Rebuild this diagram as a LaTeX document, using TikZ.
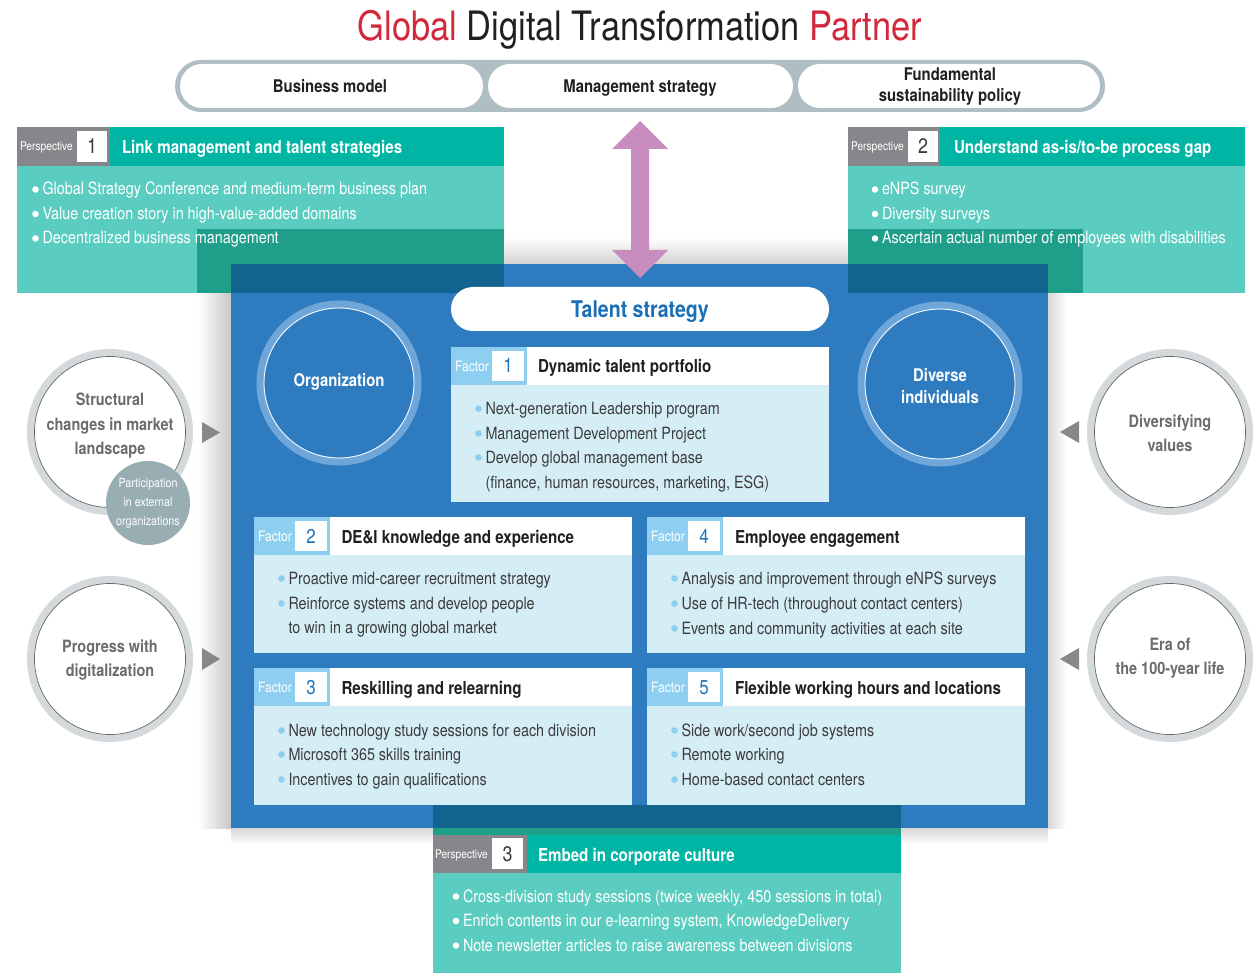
\documentclass[tikz,border=0pt]{standalone}
\usepackage{fontspec}
\setmainfont{TeX Gyre Heros}[FakeStretch=0.85]
\definecolor{cteal}{HTML}{00B5A3}
\definecolor{cltteal}{HTML}{5BCDC0}
\definecolor{cdkteal}{HTML}{1F9E8A}
\definecolor{cdkblue}{HTML}{12638F}
\definecolor{cblue}{HTML}{2E7BBF}
\definecolor{cgraylab}{HTML}{86878A}
\definecolor{clbluelab}{HTML}{8ECFF1}
\definecolor{cbody}{HTML}{D5EEF6}
\definecolor{cring}{HTML}{6FA6D9}
\definecolor{cgring}{HTML}{D4DADB}
\definecolor{cpart}{HTML}{98AEB2}
\definecolor{ctri}{HTML}{87888B}
\definecolor{cpurple}{HTML}{C98CBF}
\definecolor{cred}{HTML}{D2283C}
\definecolor{cbar}{HTML}{AEBEC3}
\definecolor{ccirctext}{HTML}{6B6C6F}
\definecolor{cftext}{HTML}{3C3C3E}
\definecolor{cnum}{HTML}{1D74BB}
\definecolor{cnumdark}{HTML}{3A3A3A}
\definecolor{ctalent}{HTML}{1A6FB6}
\definecolor{ctitle}{HTML}{231F20}
% bullet line: name, bullet centre x, baseline y, bullet colour, text style, text
\newcommand\bul[6]{%
  \fill[#4] (#2,#3-5.5) circle[radius=3.3pt];
  \node[#5] (#1) at (#2+7,#3) {#6};}
% factor frame: left x, top y, bottom y, id, number
\newcommand\factorframe[5]{%
  \fill[cbody] (#1,#2+38) rectangle (#1+378,#3);
  \fill[white] (#1,#2) rectangle (#1+378,#2+38);
  \fill[clbluelab] (#1,#2) rectangle (#1+76,#2+38);
  \fill[white] (#1+41,#2+4) rectangle (#1+73,#2+34);
  \node[flab] (f#4lab) at (#1+4,#2+24.5) {Factor};
  \node[fnum] (f#4num) at (#1+57,#2+26) {#5};}
\begin{document}
\begin{tikzpicture}[x=1pt,y=-1pt,
  every node/.style={inner sep=0pt, outer sep=0pt},
  ptxt/.style={anchor=base west, text=white, font=\fontsize{16.9}{20}\selectfont},
  ftxt/.style={anchor=base west, text=cftext, font=\fontsize{16.9}{20}\selectfont},
  plab/.style={anchor=base west, text=white, font=\fontsize{12}{14}\selectfont},
  pnum/.style={anchor=base, text=cnumdark, font=\fontsize{21}{24}\selectfont},
  ptitle/.style={anchor=base west, text=white, font=\bfseries\fontsize{17.8}{20}\selectfont},
  flab/.style={anchor=base west, text=white, font=\fontsize{14.3}{16}\selectfont},
  fnum/.style={anchor=base, text=cnum, font=\fontsize{20}{24}\selectfont},
  ftitle/.style={anchor=base west, text=ctitle, font=\bfseries\fontsize{17.8}{20}\selectfont},
  pilltxt/.style={anchor=base, text=ctitle, font=\bfseries\fontsize{17.5}{20}\selectfont},
  gcirc/.style={align=center, text=ccirctext, font=\bfseries\fontsize{17}{24.5}\selectfont},
  bcirc/.style={align=center, text=white, font=\bfseries\fontsize{17.5}{22.5}\selectfont},
  partxt/.style={align=center, text=white, font=\fontsize{12.6}{19}\selectfont}]
\useasboundingbox (0,0) rectangle (1253,973);
\fill[white] (0,0) rectangle (1253,973);

% title
\node[anchor=base, font=\fontsize{40.5}{44}\selectfont, text=ctitle] (title) at (640,41)
  {\textcolor{cred}{Global} Digital Transformation \textcolor{cred}{Partner}};

% top bar
\fill[cbar, rounded corners=26pt] (175,60) rectangle (1105,112);
\fill[white, rounded corners=22pt] (180,64) rectangle (483,108);
\fill[white, rounded corners=22pt] (488,64) rectangle (793,108);
\fill[white, rounded corners=22pt] (798,64) rectangle (1100,108);
\node[pilltxt] (bm) at (330,93) {Business model};
\node[pilltxt] (ms) at (640,93) {Management strategy};
\node[pilltxt] (fs1) at (950,81) {Fundamental};
\node[pilltxt] (fs2) at (950,102) {sustainability policy};

% shadows of the blue box on white
\shade[left color=white, right color=black!22] (198,264) rectangle (231,828);
\shade[top color=white, bottom color=black!18] (504,238) rectangle (848,264);
\shade[left color=black!16, right color=white] (1048,293) rectangle (1066,828);
\shade[top color=black!16, bottom color=white] (231,828) rectangle (433,844);
\shade[top color=black!16, bottom color=white] (901,828) rectangle (1048,844);

% blue box
\fill[cblue] (231,264) rectangle (1048,828);

% perspective 1
\fill[cltteal] (17,166) rectangle (504,293);
\fill[cteal] (17,127) rectangle (504,166);
\fill[cgraylab] (17,127) rectangle (110,166);
\fill[white] (77,131) rectangle (107,162);
\fill[cdkteal] (197,229) rectangle (504,293);
\fill[cdkblue] (231,264) rectangle (504,293);
% perspective 2
\fill[cltteal] (848,166) rectangle (1245,293);
\fill[cteal] (848,127) rectangle (1245,166);
\fill[cgraylab] (848,127) rectangle (940,166);
\fill[white] (908,131) rectangle (938,162);
\fill[cdkteal] (848,229) rectangle (1083,293);
\fill[cdkblue] (848,264) rectangle (1048,293);
% perspective 3
\fill[cltteal] (433,873) rectangle (901,973);
\fill[cteal] (433,835) rectangle (901,873);
\fill[cgraylab] (433,835) rectangle (527,873);
\fill[white] (492,838) rectangle (523,869);
\fill[cdkteal] (433,828) rectangle (901,835);
\fill[cdkblue] (433,805) rectangle (901,828);

% perspective texts
\node[plab] (p1lab) at (20,151) {Perspective};
\node[pnum] (p1num) at (92,154) {1};
\node[ptitle] (p1title) at (122,154) {Link management and talent strategies};
\bul{p1a}{35.5}{195}{white}{ptxt}{Global Strategy Conference and medium-term business plan}
\bul{p1b}{35.5}{219.5}{white}{ptxt}{Value creation story in high-value-added domains}
\bul{p1c}{35.5}{244}{white}{ptxt}{Decentralized business management}

\node[plab] (p2lab) at (851,151) {Perspective};
\node[pnum] (p2num) at (923,154) {2};
\node[ptitle] (p2title) at (954,154) {Understand as-is/to-be process gap};
\bul{p2a}{875}{195}{white}{ptxt}{eNPS survey}
\bul{p2b}{875}{219.5}{white}{ptxt}{Diversity surveys}
\bul{p2c}{875}{244}{white}{ptxt}{Ascertain actual number of employees with disabilities}

\node[plab] (p3lab) at (435,858) {Perspective};
\node[pnum] (p3num) at (507.5,861) {3};
\node[ptitle] (p3title) at (538,861) {Embed in corporate culture};
\bul{p3a}{456}{902}{white}{ptxt}{Cross-division study sessions (twice weekly, 450 sessions in total)}
\bul{p3b}{456}{926.5}{white}{ptxt}{Enrich contents in our e-learning system, KnowledgeDelivery}
\bul{p3c}{456}{951}{white}{ptxt}{Note newsletter articles to raise awareness between divisions}

% purple double arrow
\fill[cpurple] (640,121) -- (668,149) -- (649,149) -- (649,250) -- (668,250) -- (640,278)
  -- (612,250) -- (631,250) -- (631,149) -- (612,149) -- cycle;

% talent strategy pill
\fill[white, rounded corners=22pt] (451,287) rectangle (829,331);
\node[anchor=base, text=ctalent, font=\bfseries\fontsize{23}{24}\selectfont] (ts) at (640,318) {Talent strategy};

% blue circles
\draw[cring, line width=8pt] (339,383) circle[radius=78.5pt];
\draw[white, line width=0.8pt] (339,383) circle[radius=75pt];
\node[bcirc] (org) at (339,381.5) {Organization};
\draw[cring, line width=8pt] (940,384) circle[radius=78.5pt];
\draw[white, line width=0.8pt] (940,384) circle[radius=75pt];
\node[bcirc] (div) at (940,386) {Diverse\\individuals};

% factor boxes
\factorframe{451}{347}{502}{1}{1}
\node[ftitle] (f1title) at (538,373) {Dynamic talent portfolio};
\bul{f1a}{478.5}{414}{clbluelab}{ftxt}{Next-generation Leadership program}
\bul{f1b}{478.5}{439}{clbluelab}{ftxt}{Management Development Project}
\bul{f1c}{478.5}{463}{clbluelab}{ftxt}{Develop global management base}
\node[ftxt] (f1d) at (485.5,488) {(finance, human resources, marketing, ESG)};

\factorframe{254}{517}{653}{2}{2}
\node[ftitle] (f2title) at (341.5,543) {DE\&I knowledge and experience};
\bul{f2a}{281.5}{584}{clbluelab}{ftxt}{Proactive mid-career recruitment strategy}
\bul{f2b}{281.5}{609}{clbluelab}{ftxt}{Reinforce systems and develop people}
\node[ftxt] (f2c) at (288.5,633) {to win in a growing global market};

\factorframe{254}{668}{805}{3}{3}
\node[ftitle] (f3title) at (341.5,694) {Reskilling and relearning};
\bul{f3a}{281.5}{736}{clbluelab}{ftxt}{New technology study sessions for each division}
\bul{f3b}{281.5}{760}{clbluelab}{ftxt}{Microsoft 365 skills training}
\bul{f3c}{281.5}{785}{clbluelab}{ftxt}{Incentives to gain qualifications}

\factorframe{647}{517}{653}{4}{4}
\node[ftitle] (f4title) at (735,543) {Employee engagement};
\bul{f4a}{674.5}{584}{clbluelab}{ftxt}{Analysis and improvement through eNPS surveys}
\bul{f4b}{674.5}{609}{clbluelab}{ftxt}{Use of HR-tech (throughout contact centers)}
\bul{f4c}{674.5}{634}{clbluelab}{ftxt}{Events and community activities at each site}

\factorframe{647}{668}{805}{5}{5}
\node[ftitle] (f5title) at (735,694) {Flexible working hours and locations};
\bul{f5a}{674.5}{736}{clbluelab}{ftxt}{Side work/second job systems}
\bul{f5b}{674.5}{760}{clbluelab}{ftxt}{Remote working}
\bul{f5c}{674.5}{785}{clbluelab}{ftxt}{Home-based contact centers}

% outer circles, left
\fill[cgring] (110,432) circle[radius=83pt];
\draw[black!60, fill=white, line width=0.7pt] (110,432) circle[radius=75.5pt];
\node[gcirc] (sc) at (110,426) {Structural\\changes in market\\landscape};
\fill[cpart] (148,503) circle[radius=42pt];
\node[partxt] (pe) at (148,503) {Participation\\in external\\organizations};
\fill[cgring] (110,659) circle[radius=83pt];
\draw[black!60, fill=white, line width=0.7pt] (110,659) circle[radius=75.5pt];
\node[gcirc] (pd) at (110,660) {Progress with\\digitalization};
% outer circles, right
\fill[cgring] (1170,432) circle[radius=83pt];
\draw[black!60, fill=white, line width=0.7pt] (1170,432) circle[radius=75.5pt];
\node[gcirc] (dv) at (1170,433) {Diversifying\\values};
\fill[cgring] (1170,659) circle[radius=83pt];
\draw[black!60, fill=white, line width=0.7pt] (1170,659) circle[radius=75.5pt];
\node[gcirc] (era) at (1170,658) {Era of\\the 100-year life};

% triangles
\fill[ctri] (202,422) -- (220,432.5) -- (202,443) -- cycle;
\fill[ctri] (202,648) -- (220,659) -- (202,670) -- cycle;
\fill[ctri] (1079,421) -- (1060,432) -- (1079,443) -- cycle;
\fill[ctri] (1079,648) -- (1060,659) -- (1079,670) -- cycle;
\end{tikzpicture}
\end{document}
